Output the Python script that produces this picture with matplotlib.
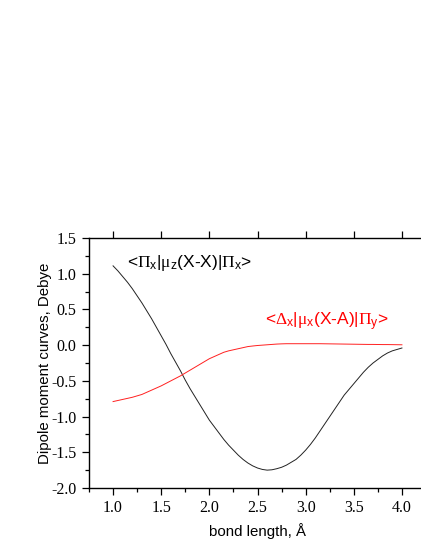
import matplotlib
matplotlib.use("Agg")
import matplotlib.pyplot as plt
from matplotlib.ticker import MultipleLocator

plt.rcParams['mathtext.fontset'] = 'custom'
plt.rcParams['mathtext.rm'] = 'Liberation Serif'
plt.rcParams['mathtext.it'] = 'Liberation Serif'
plt.rcParams['mathtext.sf'] = 'Liberation Sans'

# data
bond_length = [1.00, 1.05, 1.10, 1.15, 1.20, 1.25, 1.30, 1.35, 1.40, 1.45,
               1.50, 1.55, 1.60, 1.65, 1.70, 1.75, 1.80, 1.85, 1.90, 1.95,
               2.00, 2.05, 2.10, 2.15, 2.20, 2.25, 2.30, 2.35, 2.40, 2.45,
               2.50, 2.55, 2.60, 2.65, 2.70, 2.75, 2.80, 2.85, 2.90, 2.95,
               3.00, 3.05, 3.10, 3.15, 3.20, 3.25, 3.30, 3.35, 3.40, 3.45,
               3.50, 3.55, 3.60, 3.65, 3.70, 3.75, 3.80, 3.85, 3.90, 3.95, 4.00]
pi_pi = [1.11, 1.04, 0.96, 0.88, 0.79, 0.69, 0.59, 0.48, 0.37, 0.25,
         0.13, 0.01, -0.12, -0.24, -0.36, -0.49, -0.61, -0.72, -0.83, -0.94,
         -1.05, -1.14, -1.23, -1.32, -1.40, -1.47, -1.54, -1.60, -1.65, -1.69,
         -1.72, -1.74, -1.75, -1.745, -1.73, -1.71, -1.68, -1.64, -1.60, -1.54,
         -1.47, -1.39, -1.30, -1.20, -1.10, -1.00, -0.90, -0.80, -0.70, -0.62,
         -0.54, -0.46, -0.38, -0.31, -0.25, -0.20, -0.15, -0.11, -0.08, -0.06, -0.04]
delta_pi = [-0.79, -0.775, -0.76, -0.745, -0.73, -0.71, -0.69, -0.66, -0.63, -0.60,
            -0.57, -0.535, -0.50, -0.465, -0.43, -0.39, -0.35, -0.31, -0.27, -0.23,
            -0.19, -0.16, -0.13, -0.10, -0.08, -0.065, -0.05, -0.035, -0.02, -0.012,
            -0.005, 0.0, 0.005, 0.01, 0.015, 0.018, 0.02, 0.02, 0.02, 0.02,
            0.02, 0.02, 0.02, 0.02, 0.019, 0.018, 0.017, 0.016, 0.015, 0.014,
            0.013, 0.012, 0.011, 0.01, 0.01, 0.009, 0.008, 0.008, 0.007, 0.006, 0.005]
xticks = [1.0, 1.5, 2.0, 2.5, 3.0, 3.5, 4.0]
yticks = [1.5, 1.0, 0.5, 0.0, -0.5, -1.0, -1.5, -2.0]

W, H = 421, 545
fig = plt.figure(figsize=(W / 100, H / 100), dpi=100)
ax = fig.add_axes([89 / W, 57 / H, 337 / W, 250 / H])

ax.plot(bond_length, pi_pi, color='#222222', lw=0.7)
ax.plot(bond_length, delta_pi, color='#ff2020', lw=0.7)

ax.set_xlim(0.75, 4.25)
ax.set_ylim(-2.0, 1.5)
ax.set_xticks(xticks)
ax.set_yticks(yticks)
ax.set_xticklabels([f"{v:.1f}" for v in xticks], family='Liberation Serif', fontsize=11.5)
ax.set_yticklabels([f"{v:.1f}" for v in yticks], family='Liberation Serif', fontsize=11.5)
ax.xaxis.set_minor_locator(MultipleLocator(0.25))
ax.yaxis.set_minor_locator(MultipleLocator(0.25))
ax.tick_params(which='major', direction='out', length=5, width=0.9, top=True, right=False, pad=4)
ax.tick_params(which='minor', direction='out', length=3, width=0.9, top=False, right=False)
for s in ax.spines.values():
    s.set_linewidth(1.0)

ax.set_xlabel('bond length, Å', family='Liberation Sans', fontsize=10.8, labelpad=5)
ax.set_ylabel('Dipole moment curves, Debye', family='Liberation Sans', fontsize=10.8)
ax.yaxis.set_label_coords(-0.11, 0.5)

ax.text(1.145, 1.15, r'<$\Pi_{\mathsf{x}}$|$\mu_{\mathsf{z}}$(X-X)|$\Pi_{\mathsf{x}}$>',
        family='Liberation Sans', fontsize=12.5, color='black', va='center', ha='left')
ax.text(2.58, 0.32, r'<$\Delta_{\mathsf{x}}$|$\mu_{\mathsf{x}}$(X-A)|$\Pi_{\mathsf{y}}$>',
        family='Liberation Sans', fontsize=12.5, color='red', va='center', ha='left')

fig.savefig('out.png', dpi=100)
